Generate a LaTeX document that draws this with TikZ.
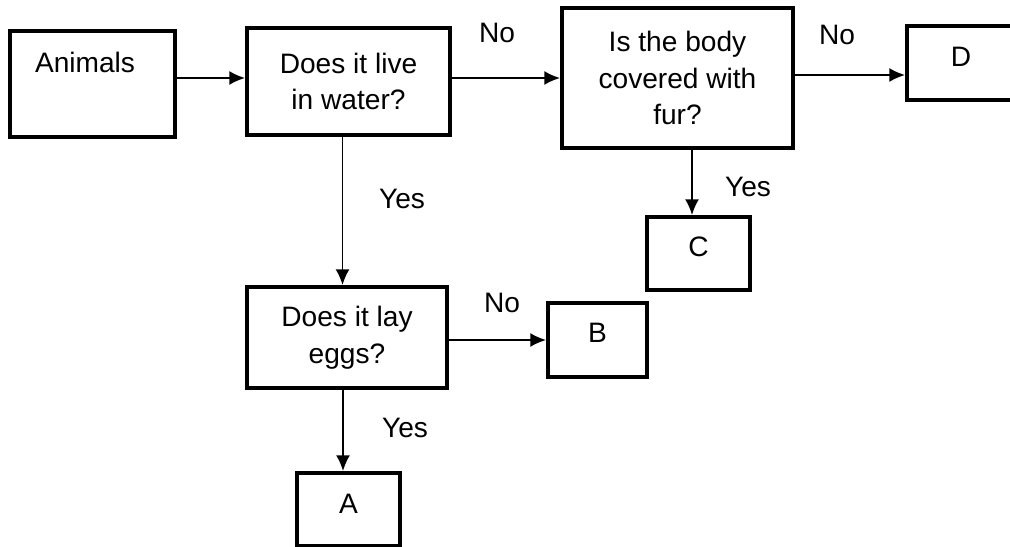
\documentclass[tikz,border=0pt]{standalone}
\usepackage{fontspec}
\setmainfont{Liberation Sans}
\usetikzlibrary{arrows.meta}
\begin{document}
\begin{tikzpicture}[x=0.02cm, y=-0.02cm, font=\fontsize{16}{21}\selectfont, >={Latex[length=9pt,width=8pt]},
	box/.style={draw, line width=2.2pt, inner sep=0pt, align=center},
	link/.style={->, line width=1.1pt}]
	\useasboundingbox (0,0) rectangle (1010,547);
	% boxes
	\node[box, minimum width=3.3cm, text height=0.82cm, text depth=1.3cm] (animals) at (92.5,84) {Animals\hspace{0.3cm}};
	\node[box, minimum width=4.06cm, minimum height=2.14cm] (water) at (348.5,81.5) {Does it live\\in water?};
	\node[box, minimum width=4.62cm, minimum height=2.8cm] (fur) at (677.5,78) {Is the body\\covered with\\fur?};
	\node[box, minimum width=2.16cm, text height=0.82cm, text depth=0.66cm] (D) at (961,63) {D};
	\node[box, minimum width=2.06cm, text height=0.8cm, text depth=0.66cm] (C) at (698.5,253.5) {C};
	\node[box, minimum width=4cm, minimum height=2.02cm] (eggs) at (347,337.5) {Does it lay\\eggs?};
	\node[box, minimum width=1.98cm, text height=0.78cm, text depth=0.7cm] (B) at (597.5,340) {B};
	\node[box, minimum width=2.06cm, text height=0.8cm, text depth=0.66cm] (A) at (348.5,509.5) {A};
	% labels
	\node (nowater) at (497,33) {No};
	\node (nofur) at (837,35) {No};
	\node (yeswater) at (402,199) {Yes};
	\node (yesfur) at (748,187) {Yes};
	\node (noeggs) at (502,303) {No};
	\node (yeseggs) at (405,428) {Yes};
	% arrows
	\draw[link] ([yshift=0.07cm]animals.east |- water.west) -- ([yshift=0.07cm]water.west);
	\draw[link] (water.east |- fur.west) -- (fur.west);
	\draw[link] ([yshift=0.06cm]fur.east) -- ([yshift=0.06cm]fur.east -| D.west);
	\draw[link] ([xshift=-0.12cm]water.south) -- ([xshift=-0.12cm]water.south |- eggs.north);
	\draw[link] ([xshift=-0.13cm]C.north |- fur.south) -- ([xshift=-0.13cm]C.north);
	\draw[link] (eggs.east |- B.west) -- (B.west);
	\draw[link] ([xshift=-0.08cm]eggs.south) -- ([xshift=-0.08cm]eggs.south |- A.north);
\end{tikzpicture}
\end{document}
